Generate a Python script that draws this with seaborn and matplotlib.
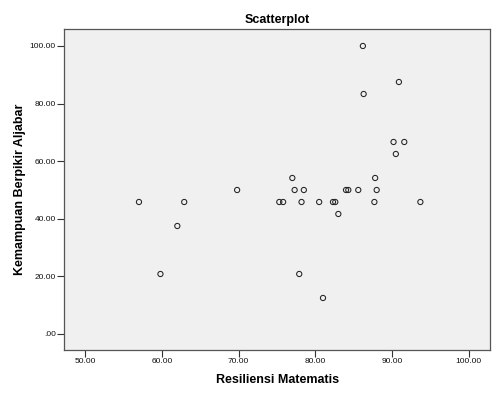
import numpy as np
import pandas as pd
import seaborn as sns
import matplotlib.pyplot as plt

resiliensi = [57.0, 62.9, 69.8, 62.0, 59.8, 75.3, 75.8, 86.2, 90.9, 86.3,
              90.2, 91.6, 90.5, 77.0, 87.8, 77.3, 78.5, 84.0, 84.3, 85.6,
              88.0, 78.2, 80.5, 82.3, 82.6, 87.7, 93.7, 83.0, 77.9, 81.0]
aljabar = [45.83, 45.83, 50.00, 37.50, 20.83, 45.83, 45.83, 100.00, 87.50, 83.33,
           66.67, 66.67, 62.50, 54.17, 54.17, 50.00, 50.00, 50.00, 50.00, 50.00,
           50.00, 45.83, 45.83, 45.83, 45.83, 45.83, 45.83, 41.67, 20.83, 12.50]
x_ticks = [50, 60, 70, 80, 90, 100]
y_ticks = [0, 20, 40, 60, 80, 100]

df = pd.DataFrame({"Resiliensi Matematis": resiliensi,
                   "Kemampuan Berpikir Aljabar": aljabar})

# Plot data
sns.set_theme(style="white")
plt.rcParams["font.family"] = ["Liberation Sans", "DejaVu Sans"]

fig = plt.figure(figsize=(4.98, 3.98), dpi=100)
ax = fig.add_axes([64.3 / 498, 48 / 398, (490 - 64.3) / 498, (350 - 29) / 398])
ax.set_facecolor("#f0f0f0")

sns.scatterplot(ax=ax, data=df, x="Resiliensi Matematis", y="Kemampuan Berpikir Aljabar",
                marker="o", s=14, facecolors="none", edgecolors="#222222", linewidth=0.75)

ax.set_xlim(47.26, 102.78)
ax.set_ylim(-5.56, 105.9)
ax.set_xticks(x_ticks)
ax.set_yticks(y_ticks)
ax.set_xticklabels([f"{v:.2f}" for v in x_ticks])
ax.set_yticklabels([".00" if v == 0 else f"{v:.2f}" for v in y_ticks])
ax.tick_params(axis="both", direction="out", length=5, width=0.8, color="#333333",
               labelsize=6, labelcolor="#111111", pad=1, left=True, bottom=True)

for s in ax.spines.values():
    s.set_color("#555555")
    s.set_linewidth(0.9)

ax.set_title("Scatterplot", fontsize=9, fontweight="bold", pad=4, color="black")
ax.set_xlabel("Resiliensi Matematis", fontsize=9, fontweight="bold", labelpad=6, color="black")
ax.set_ylabel("Kemampuan Berpikir Aljabar", fontsize=9, fontweight="bold", labelpad=3, color="black")

plt.savefig("out.png", dpi=100)
